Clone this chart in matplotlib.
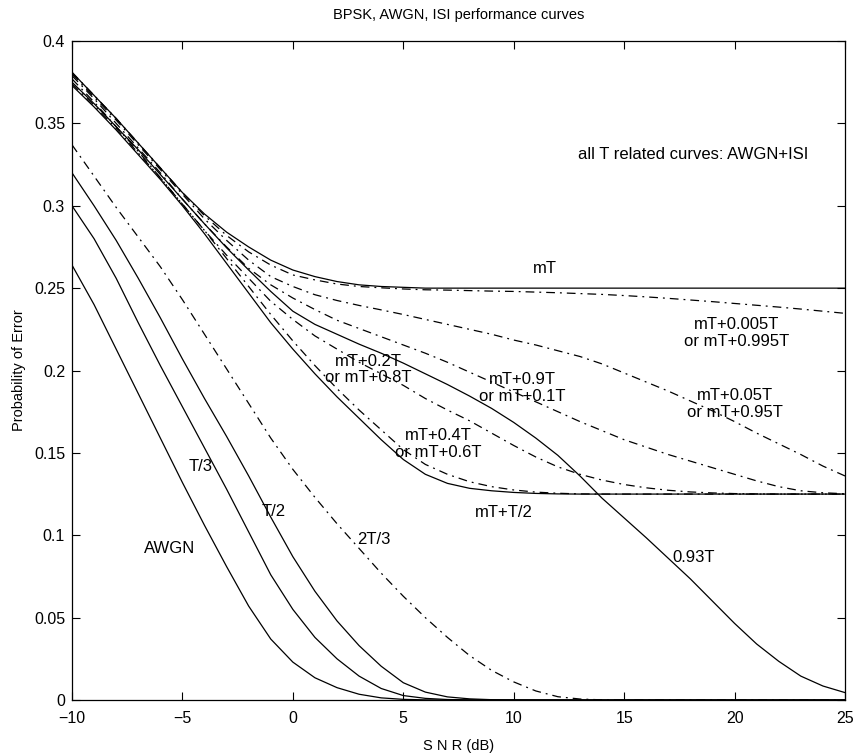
import matplotlib
matplotlib.use("Agg")
import matplotlib.pyplot as plt

plt.rcParams['font.family'] = ['Liberation Sans', 'DejaVu Sans']

# SNR axis (dB)
snr = list(range(-10, 26))

# curves that go to zero
awgn = [.264, .240, .213, .186, .159, .132, .106, .081, .057, .037, .023, .0135, .0075, .0035,
        .0013, .0004, .0001] + [0] * 19
t3 = [.300, .280, .256, .229, .203, .178, .153, .128, .102, .076, .055, .038, .025, .0145, .007,
      .0027, .001, .0003, .0001] + [0] * 17
t2 = [.320, .300, .279, .256, .232, .207, .183, .160, .136, .111, .087, .066, .048, .033, .0205,
      .0105, .0048, .0019, .0007, .0002, .00005] + [0] * 15
t23 = [.337, .318, .299, .281, .263, .243, .222, .201, .180, .159, .140, .123, .107, .092, .077,
       .063, .050, .038, .027, .018, .011, .0055, .002, .0006, .0001] + [0] * 11

# mT related curves (AWGN + ISI)
mT = [.381, .367, .353, .338, .323, .308, .295, .284, .275, .267, .261, .257, .254, .252, .251,
      .2505] + [.25] * 20
m005 = [.381, .367, .353, .338, .323, .308, .294, .282, .272, .264, .258, .255, .2525, .251, .2502,
        .2495, .249, .2488, .2485, .2482, .248, .2476, .2472, .2467, .2462, .2455, .2447, .2438,
        .2428, .2418, .2407, .2396, .2385, .2373, .236, .2347]
m05 = [.380, .366, .352, .337, .322, .307, .292, .279, .267, .257, .251, .246, .2425, .2395, .2368,
       .234, .231, .228, .225, .222, .2185, .2155, .212, .2085, .204, .1985, .193, .1875, .1815,
       .1755, .169, .162, .1555, .149, .142, .136]
m1 = [.379, .365, .350, .335, .320, .304, .289, .275, .262, .252, .244, .237, .2305, .2255, .2205,
      .2155, .2105, .205, .199, .193, .187, .181, .175, .169, .1635, .158, .1535, .149, .145, .141,
      .137, .133, .1295, .127, .1258, .1252]
m2 = [.377, .363, .348, .333, .317, .301, .285, .270, .256, .242, .231, .221, .213, .205, .198,
      .191, .183, .176, .1695, .162, .1545, .1475, .1415, .137, .1335, .1308, .1288, .1273, .1263,
      .1257, .1253, .1251] + [.125] * 4
m4 = [.374, .361, .347, .332, .317, .301, .285, .268, .251, .234, .218, .203, .189, .176, .164,
      .152, .143, .137, .1325, .1295, .1275, .1262, .1255, .1251] + [.125] * 12
mThalf = [.373, .360, .346, .331, .316, .300, .283, .265, .247, .229, .213, .198, .184, .171, .158,
          .146, .137, .1315, .1285, .127, .126, .1254, .1251] + [.125] * 13
m93 = [.375, .362, .348, .334, .319, .304, .289, .2745, .261, .248, .236, .228, .222, .216, .2105,
       .2045, .198, .1915, .1845, .177, .1685, .159, .1485, .136, .1225, .1105, .0985, .086, .0735,
       .060, .0465, .034, .0235, .0145, .0085, .0045]

solid_curves = [awgn, t3, t2, mT, mThalf, m93]
dashdot_curves = [t23, m005, m05, m1, m2, m4]

# curve labels: (text, x, y)
labels = [
    ('AWGN', -5.56, 0.092), ('T/3', -4.18, 0.142), ('T/2', -0.86, 0.1144),
    ('2T/3', 3.67, 0.0977), ('mT', 11.4, 0.262),
    ('mT+0.005T\nor mT+0.995T', 20.1, 0.223), ('mT+0.05T\nor mT+0.95T', 20.0, 0.1795),
    ('mT+0.2T\nor mT+0.8T', 3.4, 0.2006), ('mT+0.9T\nor mT+0.1T', 10.4, 0.1895),
    ('mT+0.4T\nor mT+0.6T', 6.6, 0.1552), ('mT+T/2', 9.56, 0.1138), ('0.93T', 18.16, 0.0865),
]

fig = plt.figure(figsize=(8.57, 7.54), dpi=100)
ax = fig.add_axes([0.084, 0.0716, 0.902, 0.874])

dd = (0, (7, 4, 1.5, 4))
for c in solid_curves:
    ax.plot(snr, c, color='black', lw=0.9, ls='-')
for c in dashdot_curves:
    ax.plot(snr, c, color='black', lw=0.9, ls=dd)

for txt, x, y in labels:
    ax.text(x, y, txt, ha='center', va='center', fontsize=12, linespacing=1.15)

ax.text(12.9, 0.331, 'all T related curves: AWGN+ISI', ha='left', va='center', fontsize=12)

ax.set_xlim(-10, 25)
ax.set_ylim(0, 0.4)
ax.set_xticks(range(-10, 26, 5))
ax.set_yticks([0, 0.05, 0.1, 0.15, 0.2, 0.25, 0.3, 0.35, 0.4])
ax.set_yticklabels(['0', '0.05', '0.1', '0.15', '0.2', '0.25', '0.3', '0.35', '0.4'])
ax.tick_params(direction='in', top=True, right=True, length=6, width=0.8, labelsize=11.5)
ax.tick_params(axis='x', pad=8)
ax.tick_params(axis='y', pad=5)
for s in ax.spines.values():
    s.set_linewidth(0.9)

ax.set_title('BPSK, AWGN, ISI performance curves', fontsize=10.5, pad=16)
ax.set_xlabel('S N R (dB)', fontsize=10.5, labelpad=9)
ax.set_ylabel('Probability of Error', fontsize=10.5, labelpad=6)

fig.savefig('out.png', dpi=100)
